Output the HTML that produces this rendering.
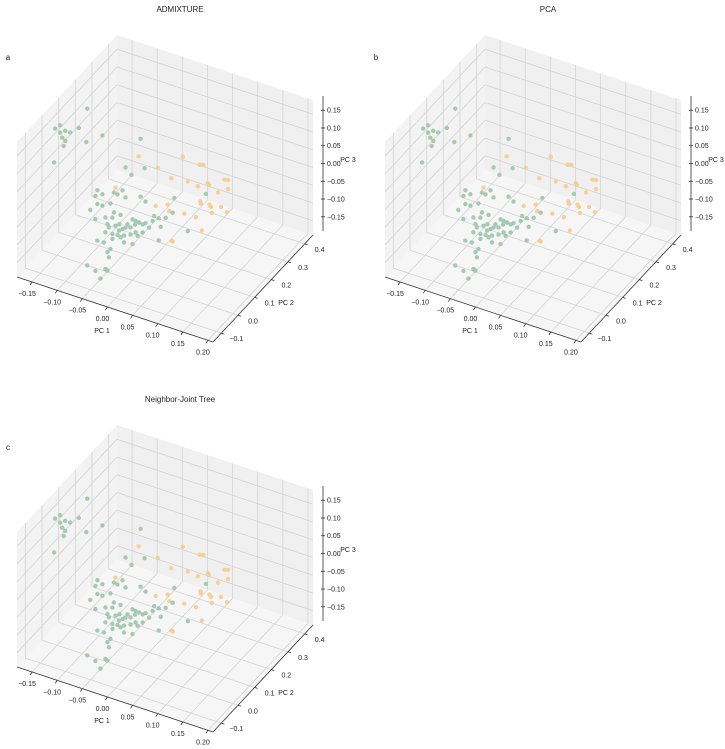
<!DOCTYPE html>
<html><head><meta charset="utf-8"><style>
html,body{margin:0;padding:0;background:#fff;}
svg{display:block;font-family:"Liberation Sans",sans-serif;}
</style></head><body>
<svg id="chart" width="725" height="749" viewBox="0 0 725 749" xmlns="http://www.w3.org/2000/svg"></svg>
<script>
// ---- data (PC1, PC2, PC3) ----
const greenPC1=[-0.123,-0.187,-0.177,-0.167,-0.177,-0.173,-0.167,-0.170,-0.140,-0.157,-0.125,-0.093,-0.189,-0.017,-0.047,-0.009,-0.035,-0.103,-0.107,-0.093,-0.070,-0.053,-0.103,-0.093,-0.063,-0.077,-0.047,-0.017,-0.007,-0.070,-0.117,-0.107,-0.087,-0.073,-0.057,-0.083,-0.067,-0.059,-0.053,-0.047,-0.043,-0.033,-0.027,-0.020,-0.013,-0.007,-0.028,-0.037,-0.060,-0.080,-0.073,-0.087,-0.063,-0.050,-0.037,-0.027,-0.023,-0.013,0.007,0.019,0.010,0.033,0.047,0.050,0.023,0.000,-0.103,-0.090,-0.073,-0.057,-0.050,-0.033,0.019,-0.077,-0.083,-0.080,-0.123,-0.087,-0.083,-0.107,-0.097,0.077,0.113];
const greenPC2=[0.10,0.10,0.10,0.10,0.10,0.10,0.10,0.10,0.10,0.10,0.10,0.10,0.10,0.10,0.10,0.10,0.10,0.10,0.10,0.10,0.10,0.10,0.10,0.10,0.10,0.10,0.10,0.10,0.10,0.10,0.10,0.10,0.10,0.10,0.10,0.10,0.10,0.10,0.10,0.10,0.10,0.10,0.10,0.10,0.10,0.10,0.10,0.10,0.10,0.10,0.10,0.10,0.10,0.10,0.10,0.10,0.10,0.10,0.10,0.10,0.10,0.10,0.10,0.10,0.10,0.10,0.10,0.10,0.10,0.10,0.10,0.10,0.10,0.10,0.10,0.10,0.10,0.10,0.10,0.10,0.10,0.10,0.10];
const greenPC3=[0.185,0.099,0.113,0.102,0.092,0.080,0.074,0.058,0.123,0.102,0.090,0.124,0.003,0.150,0.055,0.071,0.040,-0.035,-0.053,-0.042,-0.026,-0.012,-0.074,-0.074,-0.028,-0.060,-0.029,-0.013,-0.022,-0.082,-0.097,-0.118,-0.104,-0.098,-0.083,-0.121,-0.118,-0.110,-0.121,-0.114,-0.103,-0.084,-0.086,-0.087,-0.089,-0.083,-0.097,-0.109,-0.129,-0.129,-0.144,-0.146,-0.142,-0.138,-0.129,-0.118,-0.126,-0.112,-0.070,-0.057,-0.055,-0.049,-0.028,0.015,-0.079,-0.092,-0.177,-0.176,-0.158,-0.146,-0.157,-0.154,-0.119,-0.188,-0.200,-0.213,-0.256,-0.249,-0.252,-0.264,-0.281,-0.066,0.056];
const orangePC1=[-0.021,0.017,0.067,0.100,0.108,0.044,0.077,0.117,0.119,0.150,0.157,0.157,0.137,0.097,-0.067,0.013,0.037,0.040,0.070,0.093,0.103,0.102,0.120,0.123,0.143,0.155,0.125,0.105,0.045,0.047];
const orangePC2=[0.10,0.10,0.10,0.10,0.10,0.10,0.10,0.10,0.10,0.10,0.10,0.10,0.10,0.10,0.10,0.10,0.10,0.10,0.10,0.10,0.10,0.10,0.10,0.10,0.10,0.10,0.10,0.10,0.10,0.10];
const orangePC3=[0.099,0.084,0.139,0.132,0.135,0.068,0.074,0.088,0.084,0.113,0.116,0.090,0.071,0.070,-0.011,-0.025,-0.010,-0.027,-0.020,-0.019,0.024,0.030,0.029,0.024,0.033,0.024,0.008,-0.051,-0.108,-0.109];
const pc1Ticks=[-0.15,-0.10,-0.05,0.00,0.05,0.10,0.15,0.20];
const pc1Labels=["\u22120.15","\u22120.10","\u22120.05","0.00","0.05","0.10","0.15","0.20"];
const pc2Ticks=[-0.1,0.0,0.1,0.2,0.3,0.4];
const pc2Labels=["\u22120.1","0.0","0.1","0.2","0.3","0.4"];
const pc3Ticks=[-0.15,-0.10,-0.05,0.00,0.05,0.10,0.15];
const pc3Labels=["\u22120.15","\u22120.10","\u22120.05","0.00","0.05","0.10","0.15"];
const panelTitles=["ADMIXTURE","PCA","Neighbor-Joint Tree"];
const panelLetters=["a","b","c"];

const NS="http://www.w3.org/2000/svg";
const svg=document.getElementById('chart');
const X0=-0.18,X1=0.21,Y0=-0.15,Y1=0.45,Z0=-0.19,Z1=0.19;
const L=[17,277],Fv=[196,65],Rv=[100,-107],H=135;
function proj(x,y,z){
  const u=(x-X0)/(X1-X0),v=(y-Y0)/(Y1-Y0),w=(z-Z0)/(Z1-Z0);
  return [L[0]+u*Fv[0]+v*Rv[0], L[1]+u*Fv[1]+v*Rv[1]-w*H];
}
function mk(tag,attrs,parent){const e=document.createElementNS(NS,tag);for(const k in attrs)e.setAttribute(k,attrs[k]);parent.appendChild(e);return e;}
function poly(pts){return pts.map(p=>p[0].toFixed(1)+','+p[1].toFixed(1)).join(' ');}
function line(g,a,b,stroke,sw){return mk('line',{x1:a[0],y1:a[1],x2:b[0],y2:b[1],stroke:stroke,'stroke-width':sw},g);}
function txt(g,x,y,s,anchor,size){const t=mk('text',{x:x,y:y,'font-size':size||7,'text-anchor':anchor||'middle',fill:'#222'},g);t.textContent=s;return t;}

const offsets=[[0,0],[368,0],[0,390]];
offsets.forEach((off,pi)=>{
  const g=mk('g',{transform:`translate(${off[0]},${off[1]})`},svg);
  
  
  const title=txt(g,180,12,panelTitles[pi],'middle',8);
  
  
  const letter=txt(g,8,60,panelLetters[pi],'middle',8);
  
  
  const fl=mk('polygon',{points:poly([proj(X0,Y0,Z0),proj(X1,Y0,Z0),proj(X1,Y1,Z0),proj(X0,Y1,Z0)]),fill:'#f6f6f6'},g);
  
  
  const lw=mk('polygon',{points:poly([proj(X0,Y0,Z0),proj(X0,Y1,Z0),proj(X0,Y1,Z1),proj(X0,Y0,Z1)]),fill:'#f3f3f3'},g);
  
  
  const rw=mk('polygon',{points:poly([proj(X0,Y1,Z0),proj(X1,Y1,Z0),proj(X1,Y1,Z1),proj(X0,Y1,Z1)]),fill:'#f0f0f0'},g);
  
  
  const gc='#d4d4d4';
  pc1Ticks.forEach(t=>{line(g,proj(t,Y0,Z0),proj(t,Y1,Z0),gc,0.8);line(g,proj(t,Y1,Z0),proj(t,Y1,Z1),gc,0.8);});
  pc2Ticks.forEach(t=>{line(g,proj(X0,t,Z0),proj(X1,t,Z0),gc,0.8);line(g,proj(X0,t,Z0),proj(X0,t,Z1),gc,0.8);});
  pc3Ticks.forEach(t=>{line(g,proj(X0,Y0,t),proj(X0,Y1,t),gc,0.8);line(g,proj(X0,Y1,t),proj(X1,Y1,t),gc,0.8);});
  const ax1=line(g,proj(X0,Y0,Z0),proj(X1,Y0,Z0),'#333',0.8);
  
  
  const ax2=line(g,proj(X1,Y0,Z0),proj(X1,Y1,Z0),'#333',0.8);
  
  
  const zb=proj(X1,Y1,Z0),zt=proj(X1,Y1,Z1);
  const ax3=line(g,[zb[0]+10,zb[1]-4],[zt[0]+10,zt[1]-4],'#333',0.8);
  
  
  pc1Ticks.forEach((t,i)=>{const p=proj(t,Y0,Z0);line(g,p,[p[0]-2,p[1]+3],'#333',0.8);
    const l=txt(g,p[0]-5,p[1]+14,pc1Labels[i]);});
  pc2Ticks.forEach((t,i)=>{const p=proj(X1,t,Z0);line(g,p,[p[0]+3,p[1]+1],'#333',0.8);
    const l=txt(g,p[0]+15,p[1]+8,pc2Labels[i]);});
  pc3Ticks.forEach((t,i)=>{const p=proj(X1,Y1,t);line(g,[p[0]+8,p[1]-4],[p[0]+12,p[1]-4],'#333',0.8);
    const l=txt(g,p[0]+14,p[1]-1.5,pc3Labels[i],'start');});
  const t1=txt(g,102,333,'PC 1');
  const t2=txt(g,286,305,'PC 2');
  const t3=txt(g,348,162,'PC 3');
  orangePC1.forEach((x,i)=>{const p=proj(x,orangePC2[i],orangePC3[i]);
    const c=mk('circle',{cx:p[0].toFixed(1),cy:p[1].toFixed(1),r:2.2,fill:'#f8cb8a','fill-opacity':0.9},g);
    
    });
  greenPC1.forEach((x,i)=>{const p=proj(x,greenPC2[i],greenPC3[i]);
    const c=mk('circle',{cx:p[0].toFixed(1),cy:p[1].toFixed(1),r:2.2,fill:'#9cc5aa','fill-opacity':0.9},g);
    
    });
});
</script>
</body></html>
